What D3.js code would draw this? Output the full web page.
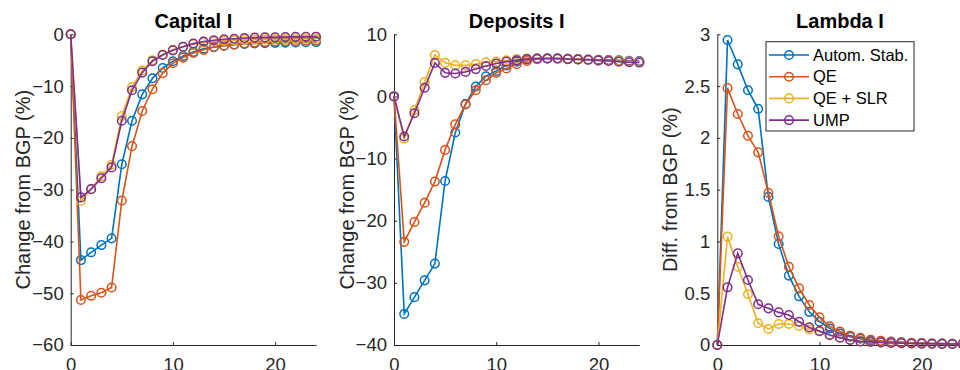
<!DOCTYPE html>
<html>
<head>
<meta charset="utf-8">
<script src="https://cdn.jsdelivr.net/npm/d3@7"></script>
<style>
  body { margin: 0; background: #fff; }
  svg { display: block; font-family: "Liberation Sans", Arial, Helvetica, sans-serif; }
</style>
</head>
<body>
<div id="chart"></div>
<script>
// Impulse responses, quarters 0..24
const periods = d3.range(0, 25);
const seriesNames = ["Autom. Stab.", "QE", "QE + SLR", "UMP"];
const colors = ["#0072BD", "#D95319", "#EDB120", "#7E2F8E"];

// Capital I (change from BGP, %)
const capitalStab = [0, -43.6, -42.1, -40.7, -39.4, -25.1, -16.7, -11.6, -8.5, -6.5, -5.2, -4.2, -3.4, -2.8, -2.45, -2.2, -2.0, -1.87, -1.78, -1.7, -1.65, -1.6, -1.57, -1.54, -1.5];
const capitalQE = [0, -51.3, -50.5, -49.9, -48.9, -32.1, -21.6, -14.8, -10.6, -7.5, -5.6, -4.5, -3.6, -3.0, -2.5, -2.2, -1.95, -1.75, -1.6, -1.5, -1.4, -1.35, -1.3, -1.25, -1.2];
const capitalSLR = [0, -32.2, -29.9, -27.4, -25.2, -15.8, -10.2, -7.0, -5.0, -3.9, -3.0, -2.4, -1.9, -1.6, -1.4, -1.25, -1.15, -1.08, -1.02, -0.98, -0.95, -0.93, -0.91, -0.9, -0.9];
const capitalUMP = [0, -31.5, -29.9, -27.8, -25.7, -16.7, -10.8, -7.4, -5.2, -4.0, -3.1, -2.4, -1.8, -1.4, -1.15, -0.97, -0.85, -0.72, -0.65, -0.6, -0.56, -0.53, -0.5, -0.48, -0.46];

// Deposits I (change from BGP, %)
const depositsStab = [0, -35.0, -32.3, -29.6, -26.9, -13.6, -5.8, -1.2, 1.6, 3.25, 4.1, 5.0, 5.6, 6.0, 6.1, 6.1, 6.1, 6.05, 6.0, 5.95, 5.9, 5.85, 5.8, 5.75, 5.7];
const depositsQE = [0, -23.4, -20.2, -17.1, -13.7, -8.6, -4.5, -1.3, 1.0, 2.6, 3.8, 4.5, 5.2, 5.7, 6.0, 6.1, 6.1, 6.05, 6.0, 5.9, 5.85, 5.8, 5.7, 5.65, 5.6];
const depositsSLR = [0, -6.8, -2.2, 2.3, 6.65, 5.4, 5.0, 5.0, 5.2, 5.5, 5.6, 5.8, 6.0, 6.1, 6.1, 6.1, 6.05, 6.0, 5.95, 5.9, 5.8, 5.75, 5.7, 5.6, 5.55];
const depositsUMP = [0, -6.45, -2.7, 1.4, 5.4, 3.8, 3.7, 3.95, 4.4, 4.9, 5.3, 5.6, 5.8, 6.0, 6.1, 6.1, 6.1, 6.0, 5.95, 5.9, 5.8, 5.7, 5.6, 5.5, 5.45];

// Lambda I (difference from BGP, %)
const lambdaStab = [0, 2.945, 2.71, 2.46, 2.28, 1.43, 0.975, 0.67, 0.47, 0.32, 0.225, 0.16, 0.11, 0.08, 0.06, 0.045, 0.035, 0.03, 0.025, 0.02, 0.018, 0.015, 0.013, 0.011, 0.01];
const lambdaQE = [0, 2.48, 2.23, 2.02, 1.86, 1.47, 1.05, 0.756, 0.547, 0.386, 0.267, 0.18, 0.13, 0.09, 0.07, 0.05, 0.04, 0.033, 0.027, 0.022, 0.018, 0.015, 0.013, 0.011, 0.01];
const lambdaSLR = [0, 1.046, 0.756, 0.49, 0.21, 0.155, 0.203, 0.203, 0.183, 0.15, 0.13, 0.095, 0.07, 0.048, 0.035, 0.03, 0.025, 0.02, 0.018, 0.015, 0.013, 0.012, 0.011, 0.01, 0.01];
const lambdaUMP = [0, 0.557, 0.885, 0.628, 0.393, 0.354, 0.315, 0.29, 0.225, 0.17, 0.135, 0.097, 0.07, 0.048, 0.035, 0.03, 0.025, 0.02, 0.018, 0.015, 0.013, 0.012, 0.011, 0.01, 0.01];

const xTicks = [0, 10, 20];

const panels = [
  { title: "Capital I", ylabel: "Change from BGP (%)", domain: [-60, 0], ticks: d3.range(-60, 1, 10),
    series: [capitalStab, capitalQE, capitalSLR, capitalUMP], left: 70.7 },
  { title: "Deposits I", ylabel: "Change from BGP (%)", domain: [-40, 10], ticks: d3.range(-40, 11, 10),
    series: [depositsStab, depositsQE, depositsSLR, depositsUMP], left: 394 },
  { title: "Lambda I", ylabel: "Diff. from BGP (%)", domain: [0, 3], ticks: d3.range(0, 3.01, 0.5),
    series: [lambdaStab, lambdaQE, lambdaSLR, lambdaUMP], left: 717.3, legend: true }
];

const W = 960, H = 370;
const plotTop = 34.3, plotBottom = 345, plotW = 245.3;
const axisColor = "#262626";

const svg = d3.select("#chart").append("svg")
  .attr("width", W)
  .attr("height", H);

panels.forEach(p => {
  const plotH = plotBottom - plotTop;
  const x = d3.scaleLinear().domain([0, 24]).range([0, plotW]);
  const y = d3.scaleLinear().domain(p.domain).range([plotH, 0]);
  const g = svg.append("g").attr("transform", `translate(${p.left},${plotTop})`);

  // axes (MATLAB style: inward ticks, box off)
  const xAxis = g.append("g")
    .attr("transform", `translate(0,${plotH})`)
    .call(d3.axisBottom(x).tickValues(xTicks).tickSize(-3).tickSizeOuter(0).tickPadding(13).tickFormat(d3.format("d")));
  const yAxis = g.append("g")
    .call(d3.axisLeft(y).tickValues(p.ticks).tickSize(-3).tickSizeOuter(0).tickPadding(7).tickFormat(d => d3.format("~g")(d)));

  [xAxis, yAxis].forEach(a => {
    a.attr("font-family", null).attr("font-size", null);
    a.select(".domain").attr("stroke", axisColor).attr("stroke-width", 1);
    a.selectAll(".tick line").attr("stroke", axisColor);
    a.selectAll(".tick text").attr("fill", axisColor).style("font-size", "18.5px");
  });

  // lines + circle markers
  p.series.forEach((vals, i) => {
    const pts = periods.map((t, k) => [t, vals[k]]);
    const line = d3.line().x(d => x(d[0])).y(d => y(d[1]));
    g.append("path")
      .datum(pts)
      .attr("fill", "none")
      .attr("stroke", colors[i])
      .attr("stroke-width", 1.6)
      .attr("d", line);
    g.append("g").selectAll("circle")
      .data(pts)
      .join("circle")
      .attr("cx", d => x(d[0]))
      .attr("cy", d => y(d[1]))
      .attr("r", 4.3)
      .attr("fill", "none")
      .attr("stroke", colors[i])
      .attr("stroke-width", 1.5);
  });

  // title and y label
  g.append("text")
    .attr("x", plotW / 2)
    .attr("y", 28 - plotTop)
    .attr("text-anchor", "middle")
    .attr("font-weight", "bold")
    .attr("font-size", "20px")
    .attr("fill", "#000")
    .text(p.title);

  g.append("text")
    .attr("transform", `translate(${-40.5},${plotH / 2}) rotate(-90)`)
    .attr("text-anchor", "middle")
    .attr("font-size", "20px")
    .attr("fill", axisColor)
    .text(p.ylabel);

  if (p.legend) {
    const lg = svg.append("g").attr("transform", "translate(766,41.7)");
    lg.append("rect")
      .attr("width", 148).attr("height", 89.3)
      .attr("fill", "#fff").attr("stroke", axisColor).attr("stroke-width", 1);
    seriesNames.forEach((name, i) => {
      const cy = 13.3 + i * 21.7;
      lg.append("line")
        .attr("x1", 3).attr("x2", 43).attr("y1", cy).attr("y2", cy)
        .attr("stroke", colors[i]).attr("stroke-width", 1.6);
      lg.append("circle")
        .attr("cx", 23).attr("cy", cy).attr("r", 4.3)
        .attr("fill", "none").attr("stroke", colors[i]).attr("stroke-width", 1.5);
      lg.append("text")
        .attr("x", 47).attr("y", cy).attr("dy", "0.35em")
        .attr("font-size", "16.5px").attr("fill", "#000")
        .text(name);
    });
  }
});
</script>
</body>
</html>
